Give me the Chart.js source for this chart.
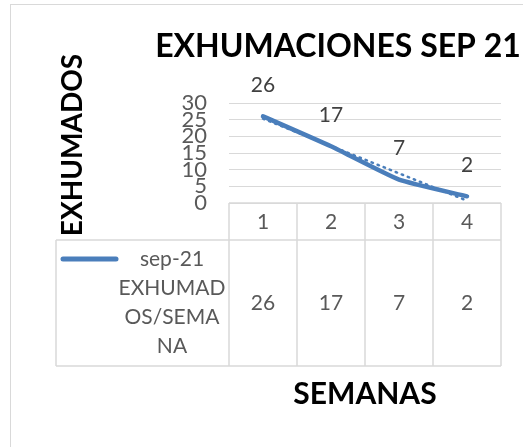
<!DOCTYPE html>
<html>
<head>
<meta charset="utf-8">
<script src="https://cdn.jsdelivr.net/npm/chart.js@4.4.1/dist/chart.umd.min.js"></script>
<style>
  html, body { margin: 0; padding: 0; background: #fff; }
  #wrap { width: 523px; height: 447px; }
</style>
</head>
<body>
<div id="wrap"><canvas id="chart" width="523" height="447"></canvas></div>
<script>
// data
const weeks = ['1', '2', '3', '4'];
const exhumed = [26, 17, 7, 2];
const trend = [25.3, 17.1, 8.9, 0.7]; // dotted trendline, estimated
const seriesName = 'sep-21';
const rowHeader = ['EXHUMAD', 'OS/SEMA', 'NA'];
const chartTitle = 'EXHUMACIONES SEP 21';
const yTitle = 'EXHUMADOS';
const xTitle = 'SEMANAS';

const BLUE = '#4A7EBB';
const GRID = '#D9D9D9';
const TEXT = '#595959';
const FONT = 'Lato, "Open Sans", sans-serif';

// draws the frame, titles, data labels and the data table under the plot
const tablePlugin = {
  id: 'tablePlugin',
  afterDraw(chart) {
    const ctx = chart.ctx;
    const area = chart.chartArea;
    const x = chart.scales.x;
    const colW = x.getPixelForValue(1) - x.getPixelForValue(0);
    const edges = [];
    for (let i = 0; i <= weeks.length; i++) {
      edges.push(x.getPixelForValue(0) - colW / 2 + i * colW);
    }
    const rowTop = area.bottom;
    const rowMid = rowTop + 37;
    const rowBot = rowTop + 163;
    const legendLeft = 56;

    ctx.save();
    // outer frame
    ctx.strokeStyle = GRID;
    ctx.lineWidth = 1;
    ctx.strokeRect(10.5, 4.5, 700, 700);

    // table lines
    ctx.lineWidth = 1.5;
    ctx.beginPath();
    ctx.moveTo(edges[0], rowTop); ctx.lineTo(edges[edges.length - 1], rowTop);
    ctx.moveTo(legendLeft, rowMid); ctx.lineTo(edges[edges.length - 1], rowMid);
    ctx.moveTo(legendLeft, rowBot); ctx.lineTo(edges[edges.length - 1], rowBot);
    ctx.moveTo(legendLeft, rowMid); ctx.lineTo(legendLeft, rowBot);
    edges.forEach(e => { ctx.moveTo(e, rowTop); ctx.lineTo(e, rowBot); });
    ctx.stroke();

    // table text
    ctx.fillStyle = TEXT;
    ctx.font = '21px ' + FONT;
    ctx.textAlign = 'center';
    ctx.textBaseline = 'middle';
    weeks.forEach((w, i) => {
      const cx = x.getPixelForValue(i);
      ctx.fillText(w, cx, (rowTop + rowMid) / 2 + 1);
      ctx.fillText(String(exhumed[i]), cx, (rowMid + rowBot) / 2);
    });

    // legend key in the table
    ctx.strokeStyle = BLUE;
    ctx.lineWidth = 5;
    ctx.lineCap = 'round';
    ctx.beginPath();
    ctx.moveTo(63, rowMid + 19); ctx.lineTo(116, rowMid + 19);
    ctx.stroke();
    ctx.fillText(seriesName, 172, rowMid + 19);
    rowHeader.forEach((t, i) => ctx.fillText(t, 172, rowMid + 48 + i * 29));

    // data labels
    const meta = chart.getDatasetMeta(0);
    ctx.fillStyle = '#404040';
    meta.data.forEach((pt, i) => {
      ctx.fillText(String(exhumed[i]), pt.x, pt.y - 31);
    });

    // titles
    ctx.fillStyle = '#000';
    ctx.font = 'bold 32px ' + FONT;
    ctx.fillText(chartTitle, 338, 47);
    ctx.font = 'bold 30px ' + FONT;
    ctx.fillText(xTitle, 365, 394);
    ctx.translate(73, 145);
    ctx.rotate(-Math.PI / 2);
    ctx.font = 'bold 28px ' + FONT;
    ctx.fillText(yTitle, 0, 0);
    ctx.restore();
  }
};

new Chart(document.getElementById('chart'), {
  type: 'line',
  data: {
    labels: weeks,
    datasets: [
      {
        label: seriesName,
        data: exhumed,
        borderColor: BLUE,
        borderWidth: 4.5,
        borderCapStyle: 'round',
        borderJoinStyle: 'round',
        tension: 0.15,
        pointRadius: 0
      },
      {
        label: 'trend',
        data: trend,
        borderColor: BLUE,
        borderWidth: 2.5,
        borderDash: [1.5, 5],
        borderCapStyle: 'round',
        tension: 0,
        pointRadius: 0,
        order: 1
      }
    ]
  },
  options: {
    responsive: false,
    devicePixelRatio: 1,
    animation: false,
    layout: { padding: { left: 0, right: 22, top: 103, bottom: 244 } },
    plugins: {
      legend: { display: false },
      title: { display: false },
      tooltip: { enabled: false }
    },
    scales: {
      x: { display: false, offset: true },
      y: {
        min: 0,
        max: 30,
        border: { display: false },
        grid: { color: GRID, lineWidth: 1, drawTicks: false },
        ticks: {
          stepSize: 5,
          autoSkip: false,
          padding: 22,
          color: TEXT,
          font: { family: FONT, size: 22 }
        },
        afterFit(scale) { scale.width = 229; }
      }
    }
  },
  plugins: [tablePlugin]
});
</script>
</body>
</html>
